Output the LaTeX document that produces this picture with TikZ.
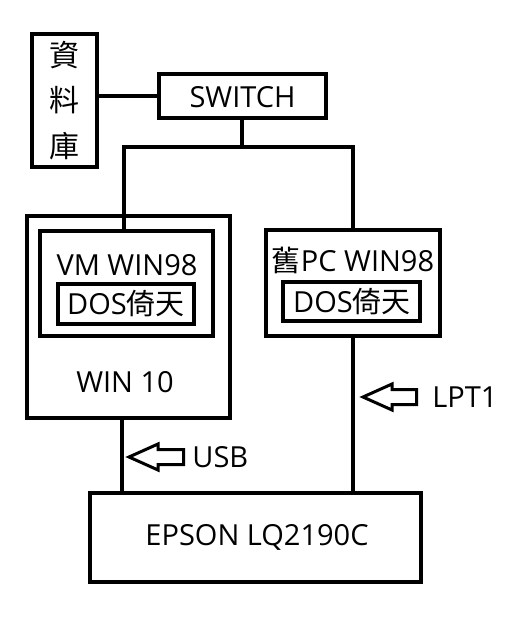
\documentclass[tikz,border=0pt]{standalone}
\usepackage{fontspec}
\setmainfont{Open Sans}
\newfontfamily\cjk{Noto Sans CJK TC}
\tikzset{
  box/.style={draw, line width=2pt, rectangle, inner sep=0pt},
  wire/.style={line width=2pt},
  hollow/.style={line width=1.5pt, line join=miter},
  txt/.style={inner sep=0pt, font=\fontsize{14.5}{16}\selectfont},
}
\begin{document}
\begin{tikzpicture}[x=0.5pt, y=-0.5pt]
    \useasboundingbox (0,0) rectangle (512,635);
    % Boxes
    \node[box, minimum width=32.5pt, minimum height=66.5pt] (db) at (64.5,100.5) {};
    \node[box, minimum width=83.5pt, minimum height=22pt] (switch) at (242.5,96) {};
    \node[box, minimum width=101.5pt, minimum height=101pt] (win10) at (128.5,317) {};
    \node[box, minimum width=86.5pt, minimum height=52.5pt] (vm) at (126.5,283.5) {};
    \node[box, minimum width=68pt, minimum height=20pt] (dosA) at (126,304) {};
    \node[box, minimum width=87pt, minimum height=53pt] (oldpc) at (353,283) {};
    \node[box, minimum width=68.5pt, minimum height=19.5pt] (dosB) at (351.5,301.5) {};
    \node[box, minimum width=165.5pt, minimum height=44.5pt] (printer) at (255.5,537.5) {};
    % Labels
    \node[txt, font=\fontsize{15}{16}\selectfont] (dbA) at (64.5,55) {\cjk 資};
    \node[txt, font=\fontsize{15}{16}\selectfont] (dbB) at (64.5,100) {\cjk 料};
    \node[txt, font=\fontsize{15}{16}\selectfont] (dbC) at (64.5,146) {\cjk 庫};
    \node[txt] (switchtxt) at (242.5,97) {SWITCH};
    \node[txt] (vmtxt) at (127,265) {VM WIN98};
    \node[txt] (dosAtxt) at (126,304) {DOS{\cjk 倚天}};
    \node[txt] (win10txt) at (125,382) {WIN 10};
    \node[txt] (oldpctxt) at (353,260) {{\cjk 舊}PC WIN98};
    \node[txt] (dosBtxt) at (352,302) {DOS{\cjk 倚天}};
    \node[txt] (printertxt) at (257,537) {EPSON LQ2190C};
    \node[txt, anchor=west] (usbtxt) at (192,457) {USB};
    \node[txt, anchor=west] (lpttxt) at (432,397) {LPT1};
    % Wires
    \coordinate (busL) at (124,147);
    \coordinate (busM) at (242,147);
    \coordinate (busR) at (353,147);
    \coordinate (usbx) at (122,0);
    \draw[wire] (switch.west) -- (switch.west -| db.east);
    \draw[wire] (switch.south -| busM) -- (busM);
    \draw[wire] (vm.north -| busL) -- (busL) -- (busR) -- (oldpc.north -| busR);
    \draw[wire] (win10.south -| usbx) -- (printer.north -| usbx);
    \draw[wire] (oldpc.south -| busR) -- (printer.north -| busR);
    % Hollow arrows
    \draw[hollow] (129,457) -- ++(29,-13) -- ++(0,5.5) -- ++(25.5,0) -- ++(0,15) -- ++(-25.5,0) -- ++(0,5.5) -- cycle;
    \draw[hollow] (363,397) -- ++(29,-13) -- ++(0,5.5) -- ++(24.5,0) -- ++(0,15) -- ++(-24.5,0) -- ++(0,5.5) -- cycle;
\end{tikzpicture}
\end{document}
